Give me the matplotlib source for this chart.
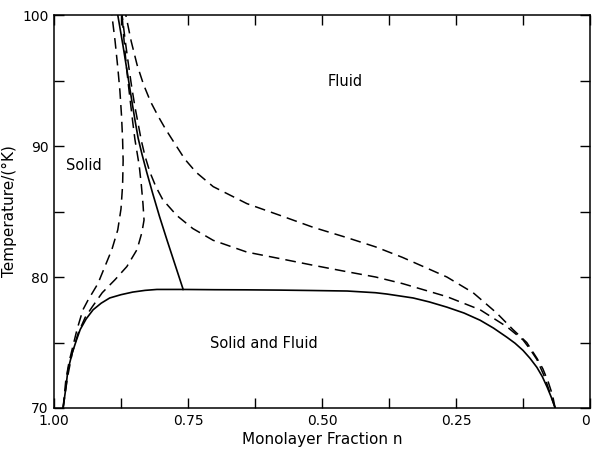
import numpy as np
import matplotlib
matplotlib.use('Agg')
import matplotlib.pyplot as plt
import matplotlib.ticker as ticker

# solid-fluid coexistence boundary (lower solid curve)
n_coex = [0.983, 0.978, 0.974, 0.966, 0.958, 0.951, 0.940, 0.927, 0.912, 0.896, 0.875,
          0.853, 0.830, 0.808, 0.785, 0.761, 0.70, 0.64, 0.578, 0.52, 0.453, 0.40, 0.379,
          0.330, 0.300, 0.267, 0.235, 0.205, 0.18, 0.155, 0.140, 0.125, 0.112, 0.099,
          0.089, 0.080, 0.072, 0.065]
T_coex = [70.0, 71.5, 72.9, 74.2, 75.2, 76.0, 76.8, 77.5, 78.0, 78.4, 78.65,
          78.85, 78.98, 79.05, 79.05, 79.05, 79.03, 79.02, 79.0, 78.97, 78.93, 78.8, 78.7,
          78.4, 78.1, 77.7, 77.25, 76.7, 76.1, 75.4, 74.95, 74.4, 73.8, 73.1,
          72.4, 71.6, 70.8, 70.0]

# solid line going up from the triple point
n_sf = [0.759, 0.773, 0.789, 0.803, 0.816, 0.827, 0.836, 0.843, 0.849, 0.855, 0.862, 0.871, 0.881]
T_sf = [79.05, 80.8, 82.8, 84.6, 86.4, 88.0, 89.4, 90.6, 92.0, 93.5, 95.3, 97.6, 100.0]

# dashed curves
n_d1 = [0.983, 0.978, 0.972, 0.966, 0.957, 0.946, 0.937, 0.918, 0.905, 0.892, 0.881,
        0.875, 0.872, 0.871, 0.872, 0.874, 0.877, 0.881, 0.886, 0.892]
T_d1 = [70.0, 72.1, 73.5, 74.5, 76.0, 77.5, 78.2, 79.5, 80.8, 82.1, 83.6,
        85.2, 87.0, 88.9, 90.5, 92.3, 94.2, 96.0, 98.0, 100.0]

n_d2 = [0.983, 0.975, 0.966, 0.955, 0.942, 0.929, 0.910, 0.886, 0.864, 0.845, 0.836,
        0.832, 0.834, 0.837, 0.841, 0.845, 0.849, 0.853, 0.857, 0.861, 0.865, 0.869, 0.873]
T_d2 = [70.0, 72.3, 74.2, 75.7, 76.9, 77.7, 78.8, 79.8, 80.8, 82.1, 83.4,
        84.35, 85.6, 87.0, 88.5, 89.5, 90.5, 91.8, 93.2, 94.6, 96.1, 97.9, 100.0]

n_d3 = [0.065, 0.075, 0.085, 0.099, 0.112, 0.125, 0.155, 0.205, 0.267, 0.300, 0.350,
        0.400, 0.453, 0.517, 0.578, 0.640, 0.703, 0.741, 0.771, 0.797, 0.810, 0.821,
        0.830, 0.837, 0.843, 0.849, 0.855, 0.861, 0.867, 0.873]
T_d3 = [70.0, 71.2, 72.4, 73.7, 74.5, 75.2, 76.2, 77.5, 78.5, 78.9, 79.5,
        80.0, 80.4, 80.9, 81.4, 81.9, 82.8, 83.7, 84.7, 85.9, 86.9, 88.0,
        89.2, 90.4, 91.7, 93.0, 94.5, 96.2, 98.0, 100.0]

n_d4 = [0.065, 0.070, 0.078, 0.088, 0.099, 0.118, 0.144, 0.174, 0.218, 0.267, 0.300,
        0.350, 0.400, 0.453, 0.517, 0.578, 0.640, 0.703, 0.735, 0.756, 0.778, 0.792,
        0.806, 0.820, 0.833, 0.845, 0.856, 0.866]
T_d4 = [70.0, 71.0, 72.0, 73.0, 73.8, 75.0, 76.0, 77.25, 78.8, 80.0, 80.6,
        81.5, 82.3, 83.0, 83.8, 84.7, 85.6, 86.9, 88.0, 89.0, 90.4, 91.3,
        92.3, 93.4, 94.7, 96.2, 98.0, 100.0]

plt.rcParams['font.family'] = 'DejaVu Sans'
fig = plt.figure(figsize=(5.92, 4.55), dpi=100)
ax = fig.add_axes([0.0912, 0.1033, 0.9054, 0.8637])

dash = (0, (7, 4))
ax.plot(n_coex, T_coex, color='black', lw=1.2)
ax.plot(n_sf, T_sf, color='black', lw=1.2)
for n, T in [(n_d1, T_d1), (n_d2, T_d2), (n_d3, T_d3), (n_d4, T_d4)]:
    ax.plot(n, T, color='black', lw=1.1, linestyle=dash)

ax.set_xlim(1.0, 0.0)
ax.set_ylim(70, 100)

ax.xaxis.set_major_locator(ticker.FixedLocator([1.0, 0.75, 0.5, 0.25, 0.0]))
ax.xaxis.set_minor_locator(ticker.MultipleLocator(0.125))
ax.set_xticklabels(['1.00', '0.75', '0.50', '0.25', '0'])
ax.yaxis.set_major_locator(ticker.MultipleLocator(10))
ax.yaxis.set_minor_locator(ticker.MultipleLocator(5))
ax.tick_params(which='both', direction='in', top=True, right=True, length=7, width=1,
               labelsize=10, pad=4)
ax.get_xticklabels()[-1].set_horizontalalignment('right')

ax.set_xlabel('Monolayer Fraction n', fontsize=11, labelpad=3)
ax.set_ylabel('Temperature/(°K)', fontsize=11, labelpad=4)

ax.text(0.457, 94.9, 'Fluid', fontsize=10.5, ha='center', va='center')
ax.text(0.944, 88.5, 'Solid', fontsize=10.5, ha='center', va='center')
ax.text(0.608, 74.9, 'Solid and Fluid', fontsize=10.5, ha='center', va='center')

for s in ax.spines.values():
    s.set_linewidth(1.1)

fig.savefig('out.png', dpi=100)
